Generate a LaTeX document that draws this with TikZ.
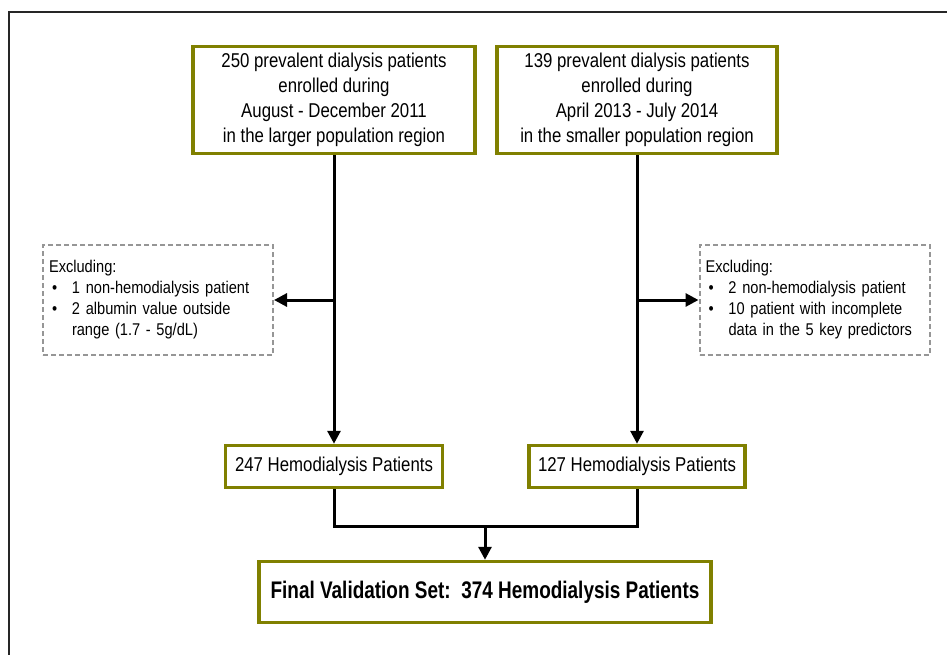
\documentclass[tikz,border=0pt]{standalone}
\usepackage{fontspec}
\setmainfont{Liberation Sans}
\newfontfamily\narrowfont{Liberation Sans}[FakeStretch=0.84]
\newfontfamily\exclfont{Liberation Sans}[FakeStretch=0.86]
\newfontfamily\finalfont{Liberation Sans}[FakeStretch=0.79]
\usetikzlibrary{arrows.meta}
\definecolor{boxolive}{RGB}{128,128,0}
\definecolor{dashgray}{RGB}{150,150,150}
\tikzset{
  stagebox/.style={draw=boxolive, line width=3.5pt, fill=white, inner sep=0pt, align=center, font=\narrowfont\fontsize{20}{25}\selectfont},
  exclbox/.style={draw=dashgray, line width=2pt, dash pattern=on 5pt off 3pt, inner xsep=6pt, inner ysep=0pt, align=left, text width=218pt, minimum height=110pt, font=\exclfont\fontsize{17}{21}\selectfont},
  flow/.style={line width=3pt},
  flowarrow/.style={flow, -{Triangle[length=13pt,width=13pt]}}
}
\newcommand{\bulletline}[1]{\hspace*{3pt}\makebox[20pt][l]{\textbullet}#1}
\begin{document}
\begin{tikzpicture}[x=1pt, y=-1pt]
    \useasboundingbox (0,0) rectangle (947,655);
    \draw[line width=2pt, black!85] (9,655) -- (9,12) -- (947,12);
    % enrolment boxes
    \node[stagebox, minimum width=282pt, minimum height=107pt] (larger) at (334,100)
        {250 prevalent dialysis patients\\ enrolled during\\ August - December 2011\\ in the larger population region};
    \node[stagebox, minimum width=280pt, minimum height=107pt] (smaller) at (637,100)
        {139 prevalent dialysis patients\\ enrolled during\\ April 2013 - July 2014\\ in the smaller population region};
    % exclusions
    \node[exclbox] (exclL) at (158,300)
        {Excluding:\\ \bulletline{1 non-hemodialysis patient}\\ \bulletline{2 albumin value outside}\\ \hspace*{23pt}range (1.7 - 5g/dL)};
    \node[exclbox] (exclR) at (814.5,300)
        {Excluding:\\ \bulletline{2 non-hemodialysis patient}\\ \bulletline{10 patient with incomplete}\\ \hspace*{23pt}data in the 5 key predictors};
    % hemodialysis boxes
    \node[stagebox, minimum width=217pt, minimum height=42pt] (hdL) at (334,466.5) {247 Hemodialysis Patients};
    \node[stagebox, minimum width=216pt, minimum height=42pt] (hdR) at (637,466.5) {127 Hemodialysis Patients};
    \node[stagebox, minimum width=452pt, minimum height=61pt, font=\finalfont\bfseries\fontsize{24}{25}\selectfont] (final) at (485,592)
        {Final Validation Set:\ \ 374 Hemodialysis Patients};
    % connectors
    \draw[flowarrow] (larger.south) -- (hdL.north);
    \draw[flowarrow] (smaller.south) -- (hdR.north);
    \draw[flowarrow] (larger.south |- exclL.east) -- (exclL.east);
    \draw[flowarrow] (smaller.south |- exclR.west) -- (exclR.west);
    \coordinate (merge) at (485,526);
    \draw[flow] (hdL.south) |- (merge) -| (hdR.south);
    \draw[flowarrow] (merge) -- (final.north);
\end{tikzpicture}
\end{document}
